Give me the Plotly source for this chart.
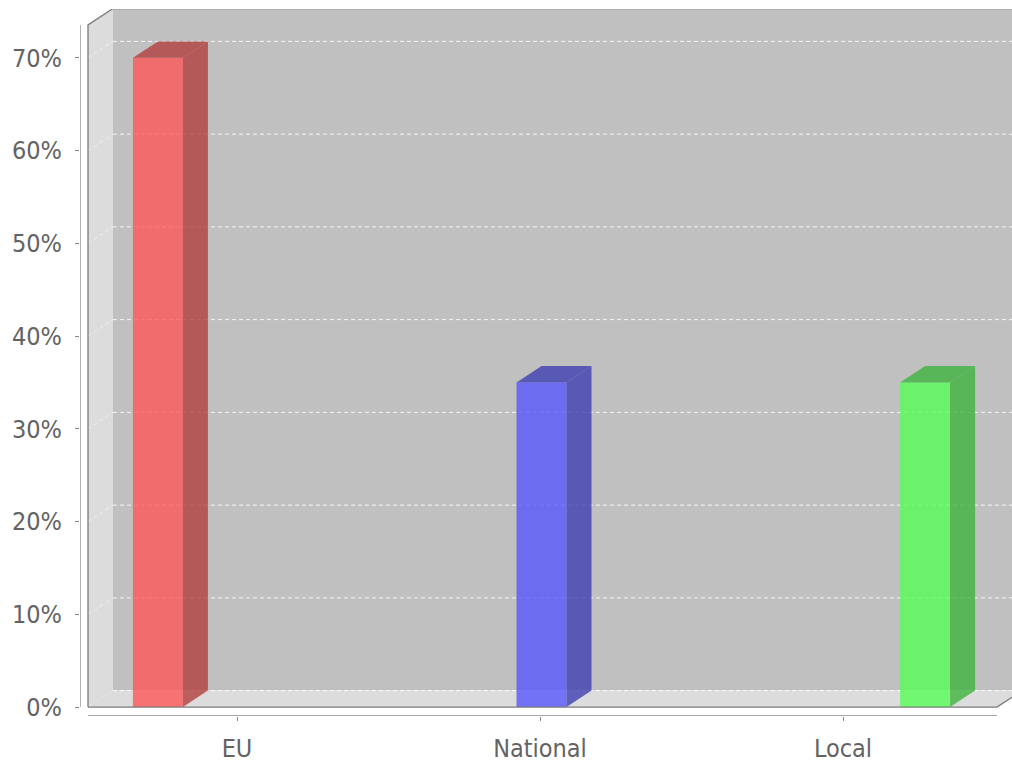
import plotly.graph_objects as go

# ---- data ----
categories = ["EU", "National", "Local"]
series_names = ["EU", "National", "Local"]
series_values = [70, 35, 35]          # percent, each series sits in its own category
y_tick_values = [0, 10, 20, 30, 40, 50, 60, 70]
y_tick_labels = ["0%", "10%", "20%", "30%", "40%", "50%", "60%", "70%"]

# ---- styling ----
front_colors = ["rgba(255,85,85,0.78)", "rgba(85,85,255,0.78)", "rgba(85,255,85,0.78)"]
shade_colors = ["rgba(178,59,59,0.78)", "rgba(59,59,178,0.78)", "rgba(59,178,59,0.78)"]
WALL_BACK = "#c0c0c0"
WALL_SIDE = "#dcdcdc"
OUTLINE = "#7a7a7a"
AXIS = "#8a8a8a"
TEXT = "#636363"
FONT = "DejaVu Sans Condensed, DejaVu Sans, sans-serif"

W, H = 1012, 763
M_L, M_R, M_T, M_B = 80, 0, 9, 44

# pixel geometry of the scales
CAT0_PX, CAT_STEP_PX = 237.0, 303.0      # category centre and spacing
ZERO_PX, PX_PER_PCT = 710.0, 9.314       # y pixel of 0% and pixels per percent
DEPTH_X_PX, DEPTH_Y_PX = 25.0, 16.5      # 3-D depth offset


def cx(px):
    return (px - CAT0_PX) / CAT_STEP_PX


def vy(py):
    return (ZERO_PX - py) / PX_PER_PCT


x_range = [cx(M_L), cx(W - M_R)]
y_range = [vy(H - M_B), vy(M_T)]

dx = DEPTH_X_PX / CAT_STEP_PX
dy = DEPTH_Y_PX / PX_PER_PCT
x_left = cx(88)
x_right = cx(997)
y_top = vy(25)
x_far = x_range[1] + 0.2
y_far = y_range[1] + 1

bar_width = 50 / CAT_STEP_PX
bar_offsets = [-0.261, 0.005, 0.271]

fig = go.Figure()


def poly(xs, ys, fill, line_color=None, width=0, dash=None):
    fig.add_trace(go.Scatter(
        x=xs, y=ys, mode="lines", fill="toself" if fill else None,
        fillcolor=fill, hoverinfo="skip", showlegend=False,
        line=dict(color=line_color or "rgba(0,0,0,0)", width=width, dash=dash),
    ))


# walls and floor
poly([x_left + dx, x_far, x_far, x_left + dx], [dy, dy, y_far, y_far], WALL_BACK)
poly([x_left, x_left, x_left + dx, x_left + dx], [0, y_top, y_top + dy, dy], WALL_SIDE)
poly([x_left, x_right, x_right + dx, x_left + dx], [0, 0, dy, dy], WALL_SIDE)

# grid lines on back wall and left wall
for v in y_tick_values:
    poly([x_left + dx, x_far], [v + dy, v + dy], None, "rgba(255,255,255,0.85)", 1, "4px,3px")
    if v > 0:
        poly([x_left, x_left + dx], [v, v + dy], None, "rgba(255,255,255,0.5)", 1, "4px,3px")

# bars: front face, side face, top face
for i, val in enumerate(series_values):
    c = i + bar_offsets[i]
    xl, xr = c - bar_width / 2, c + bar_width / 2
    poly([xl, xr, xr, xl], [0, 0, val, val], front_colors[i])
    poly([xr, xr + dx, xr + dx, xr], [0, dy, val + dy, val], shade_colors[i])
    poly([xl, xl + dx, xr + dx, xr], [val, val + dy, val + dy, val], shade_colors[i])

# frame outline
poly([x_left, x_left, x_left + dx, x_far], [0, y_top, y_top + dy, y_top + dy], None, OUTLINE, 1.3)
poly([x_left, x_right, x_right + dx], [0, 0, dy], None, OUTLINE, 1.3)

# axis lines
poly([cx(80), cx(80)], [0, y_top], None, AXIS, 1.3)
poly([x_left, x_right], [vy(719), vy(719)], None, AXIS, 1.3)

fig.update_layout(
    width=W, height=H,
    margin=dict(l=M_L, r=M_R, t=M_T, b=M_B),
    paper_bgcolor="white", plot_bgcolor="white",
    showlegend=False,
    font=dict(family=FONT, color=TEXT, size=25),
    xaxis=dict(
        range=x_range, tickvals=[0, 1, 2], ticktext=categories,
        showgrid=False, zeroline=False, showline=False,
        ticks="outside", ticklen=4, tickcolor=AXIS, tickwidth=1,
        ticklabelstandoff=6,
        tickfont=dict(family=FONT, color=TEXT, size=25),
        fixedrange=True,
    ),
    yaxis=dict(
        range=y_range, tickvals=y_tick_values, ticktext=y_tick_labels,
        showgrid=False, zeroline=False, showline=False,
        ticks="outside", ticklen=4, tickcolor=AXIS, tickwidth=1,
        ticklabelstandoff=8,
        tickfont=dict(family=FONT, color=TEXT, size=25),
        fixedrange=True,
    ),
)

fig.write_html("out.html")
